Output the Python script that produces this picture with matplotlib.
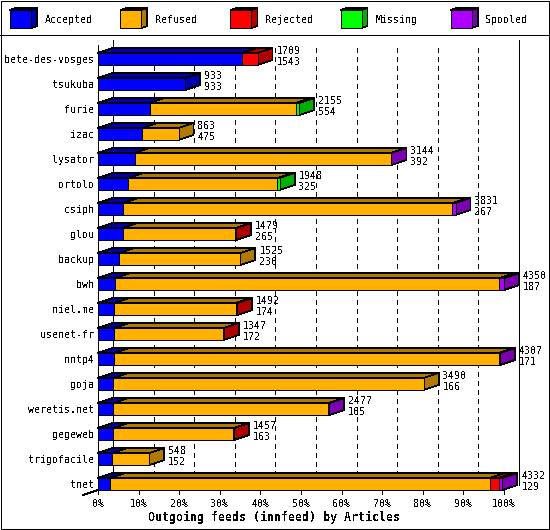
import matplotlib
matplotlib.use('Agg')
import matplotlib.pyplot as plt
from matplotlib.patches import Polygon, Rectangle

plt.rcParams['font.family'] = ['DejaVu Sans Mono']
plt.rcParams['text.antialiased'] = False
plt.rcParams['lines.scale_dashes'] = False

hosts = ['bete-des-vosges', 'tsukuba', 'furie', 'izac', 'lysator', 'ortolo', 'csiph',
         'glou', 'backup', 'bwh', 'niel.me', 'usenet-fr', 'nntp4', 'goja', 'weretis.net',
         'gegeweb', 'trigofacile', 'tnet']
totals = [1709, 933, 2155, 863, 3144, 1948, 3831, 1479, 1525, 4350, 1492, 1347, 4307,
          3490, 2477, 1457, 548, 4332]
accepted = [1543, 933, 554, 475, 392, 325, 267, 265, 230, 187, 174, 172, 171, 166, 165,
            163, 152, 129]
refused = [0, 0, 1566, 388, 2742, 1598, 3529, 1204, 1295, 4113, 1303, 1170, 4126, 3324,
           2302, 1291, 396, 4069]
rejected = [166, 0, 0, 0, 0, 0, 0, 10, 0, 0, 15, 5, 0, 0, 0, 3, 0, 97]
missing = [0, 0, 35, 0, 0, 25, 0, 0, 0, 0, 0, 0, 0, 0, 0, 0, 0, 0]
spooled = [0, 0, 0, 0, 10, 0, 35, 0, 0, 50, 0, 0, 10, 0, 10, 0, 0, 37]

names = ['Accepted', 'Refused', 'Rejected', 'Missing', 'Spooled']
series = [accepted, refused, rejected, missing, spooled]
front = ['#0000ff', '#ffb000', '#ff0000', '#00ff00', '#b000ff']
dark = ['#0000b0', '#b07a00', '#b00000', '#00b000', '#7a00b0']
xticks = [0, 10, 20, 30, 40, 50, 60, 70, 80, 90, 100]

W, H = 550, 530
x0, ppc = 98.0, 4.06   # pixel of 0%, pixels per percent
y0, ppr = 59.0, 25.0   # pixel of first row, pixels per row
dx, dy = 15 / ppc, 5 / ppr
half = 6 / ppr
lw = 0.5
fs = 7.2

fig = plt.figure(figsize=(5.5, 5.3), dpi=100)
ax = fig.add_axes([0, 0, 1, 1])
ax.set_xlim(-x0 / ppc, (W - x0) / ppc)
ax.set_ylim((H - y0) / ppr, -y0 / ppr)
ax.axis('off')

# overlay in image pixels for the legend and frame
top = fig.add_axes([0, 0, 1, 1])
top.set_xlim(0, W)
top.set_ylim(H, 0)
top.axis('off')
top.patch.set_alpha(0)


def poly(a, pts, fc, z):
    a.add_patch(Polygon(pts, closed=True, fc=fc, ec='black', lw=lw, antialiased=False, zorder=z))


last = len(hosts) - 1
ybot = last + half
# walls and grid
for t in xticks[1:-1]:
    ax.plot([t + dx, t + dx], [-0.44, ybot - dy], color='black', lw=lw, ls=(0, (2.9, 3.2)),
            antialiased=False, zorder=1)
for t in (0, 100):
    ax.plot([t + dx, t + dx], [-0.76, ybot - dy], color='black', lw=lw, antialiased=False, zorder=1)
ax.plot([0, 0], [-0.56, ybot], color='black', lw=lw, antialiased=False, zorder=1)
ax.plot([-dx, 0], [ybot + dy, ybot], color='black', lw=lw, antialiased=False, zorder=1)

for i, host in enumerate(hosts):
    scale = 100.0 / max(totals)
    left = 0.0
    for s, vals in enumerate(series):
        v = vals[i] * scale
        if v == 0:
            continue
        right = left + v
        ya, yb = i - half, i + half
        poly(ax, [(left, ya), (left + dx, ya - dy), (right + dx, ya - dy), (right, ya)], dark[s], 3)
        poly(ax, [(right, ya), (right + dx, ya - dy), (right + dx, yb - dy), (right, yb)], dark[s], 3)
        poly(ax, [(left, ya), (right, ya), (right, yb), (left, yb)], front[s], 3)
        left = right
    ax.annotate(host, (0, i), xytext=(-4, -1), textcoords='offset pixels', ha='right',
                va='center', fontsize=fs, zorder=5)
    end = totals[i] * scale
    ax.annotate(str(totals[i]), (end + dx, i), xytext=(4, 8), textcoords='offset pixels',
                va='center', ha='left', fontsize=fs, zorder=5)
    ax.annotate(str(accepted[i]), (end + dx, i), xytext=(4, -3), textcoords='offset pixels',
                va='center', ha='left', fontsize=fs, zorder=5)

for t in xticks:
    ax.plot([t, t], [ybot, ybot + 4 / ppr], color='black', lw=lw, antialiased=False, zorder=2)
    ax.annotate('%d%%' % t, (t, ybot), xytext=(0, -14), textcoords='offset pixels',
                ha='center', va='center', fontsize=fs)

# frame, legend
top.add_patch(Rectangle((0.5, 0.5), W - 1.5, H - 1.5, fc='none', ec='black', lw=lw, antialiased=False))
top.plot([0, W], [35, 35], color='black', lw=lw, antialiased=False)
for s, name in enumerate(names):
    x = 10 + 110.2 * s
    poly(top, [(x, 10), (x + 6, 8), (x + 27, 8), (x + 21, 10)], dark[s], 3)
    poly(top, [(x + 21, 10), (x + 27, 8), (x + 27, 26), (x + 21, 28)], dark[s], 3)
    poly(top, [(x, 10), (x + 21, 10), (x + 21, 28), (x, 28)], front[s], 3)
    top.text(x + 35, 20, name, ha='left', va='center', fontsize=fs)

top.text(274, 517, 'Outgoing feeds (innfeed) by Articles', ha='center', va='center',
         fontsize=8.4, fontweight='bold')

fig.savefig('out.png', dpi=100)
